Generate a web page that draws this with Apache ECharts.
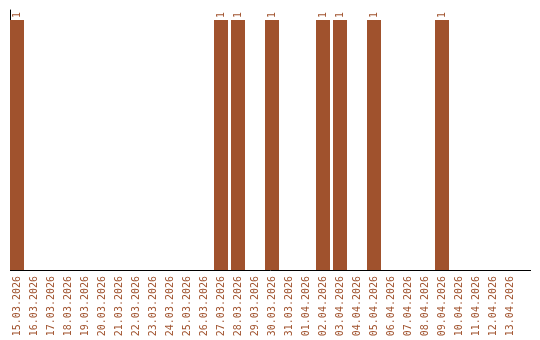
<!DOCTYPE html>
<html><head><meta charset="utf-8">
<script src="https://cdn.jsdelivr.net/npm/echarts@6/dist/echarts.min.js"></script>
<style>html,body{margin:0;padding:0;background:#fff}#c{width:540px;height:340px}</style>
</head><body><div id="c"></div>
<script>
const categories = ["15.03.2026","16.03.2026","17.03.2026","18.03.2026","19.03.2026","20.03.2026","21.03.2026","22.03.2026","23.03.2026","24.03.2026","25.03.2026","26.03.2026","27.03.2026","28.03.2026","29.03.2026","30.03.2026","31.03.2026","01.04.2026","02.04.2026","03.04.2026","04.04.2026","05.04.2026","06.04.2026","07.04.2026","08.04.2026","09.04.2026","10.04.2026","11.04.2026","12.04.2026","13.04.2026"];
const values = [1,0,0,0,0,0,0,0,0,0,0,0,1,1,0,1,0,0,1,1,0,1,0,0,0,1,0,0,0,0];
const color = '#A0522D';
const chart = echarts.init(document.getElementById('c'));
chart.setOption({
  animation: false,
  grid: {left: 8.5, right: 21.5, top: 10, bottom: 70},
  graphic: [{
    type: 'line', shape: {x1: 10, y1: 270.5, x2: 531, y2: 270.5},
    style: {stroke: '#000', lineWidth: 1}, silent: true
  }],
  xAxis: {
    type: 'category', data: categories,
    axisLine: {show: false},
    axisTick: {show: false},
    axisLabel: {rotate: 90, interval: 0, color: color, fontFamily: 'DejaVu Sans Mono', fontSize: 10, margin: 6}
  },
  yAxis: {
    type: 'value', min: 0, max: 1.04, offset: -1.5,
    axisLine: {show: true, lineStyle: {color: '#000', width: 1}},
    axisTick: {show: false}, axisLabel: {show: false}, splitLine: {show: false}
  },
  series: [{
    type: 'bar', data: values, barWidth: 14,
    itemStyle: {color: color},
    label: {
      show: true, position: 'top', rotate: 90, align: 'left', verticalAlign: 'middle',
      distance: 2, color: color, fontFamily: 'DejaVu Sans Mono', fontSize: 10,
      formatter: p => p.value > 0 ? String(p.value) : ''
    }
  }]
});
</script></body></html>
